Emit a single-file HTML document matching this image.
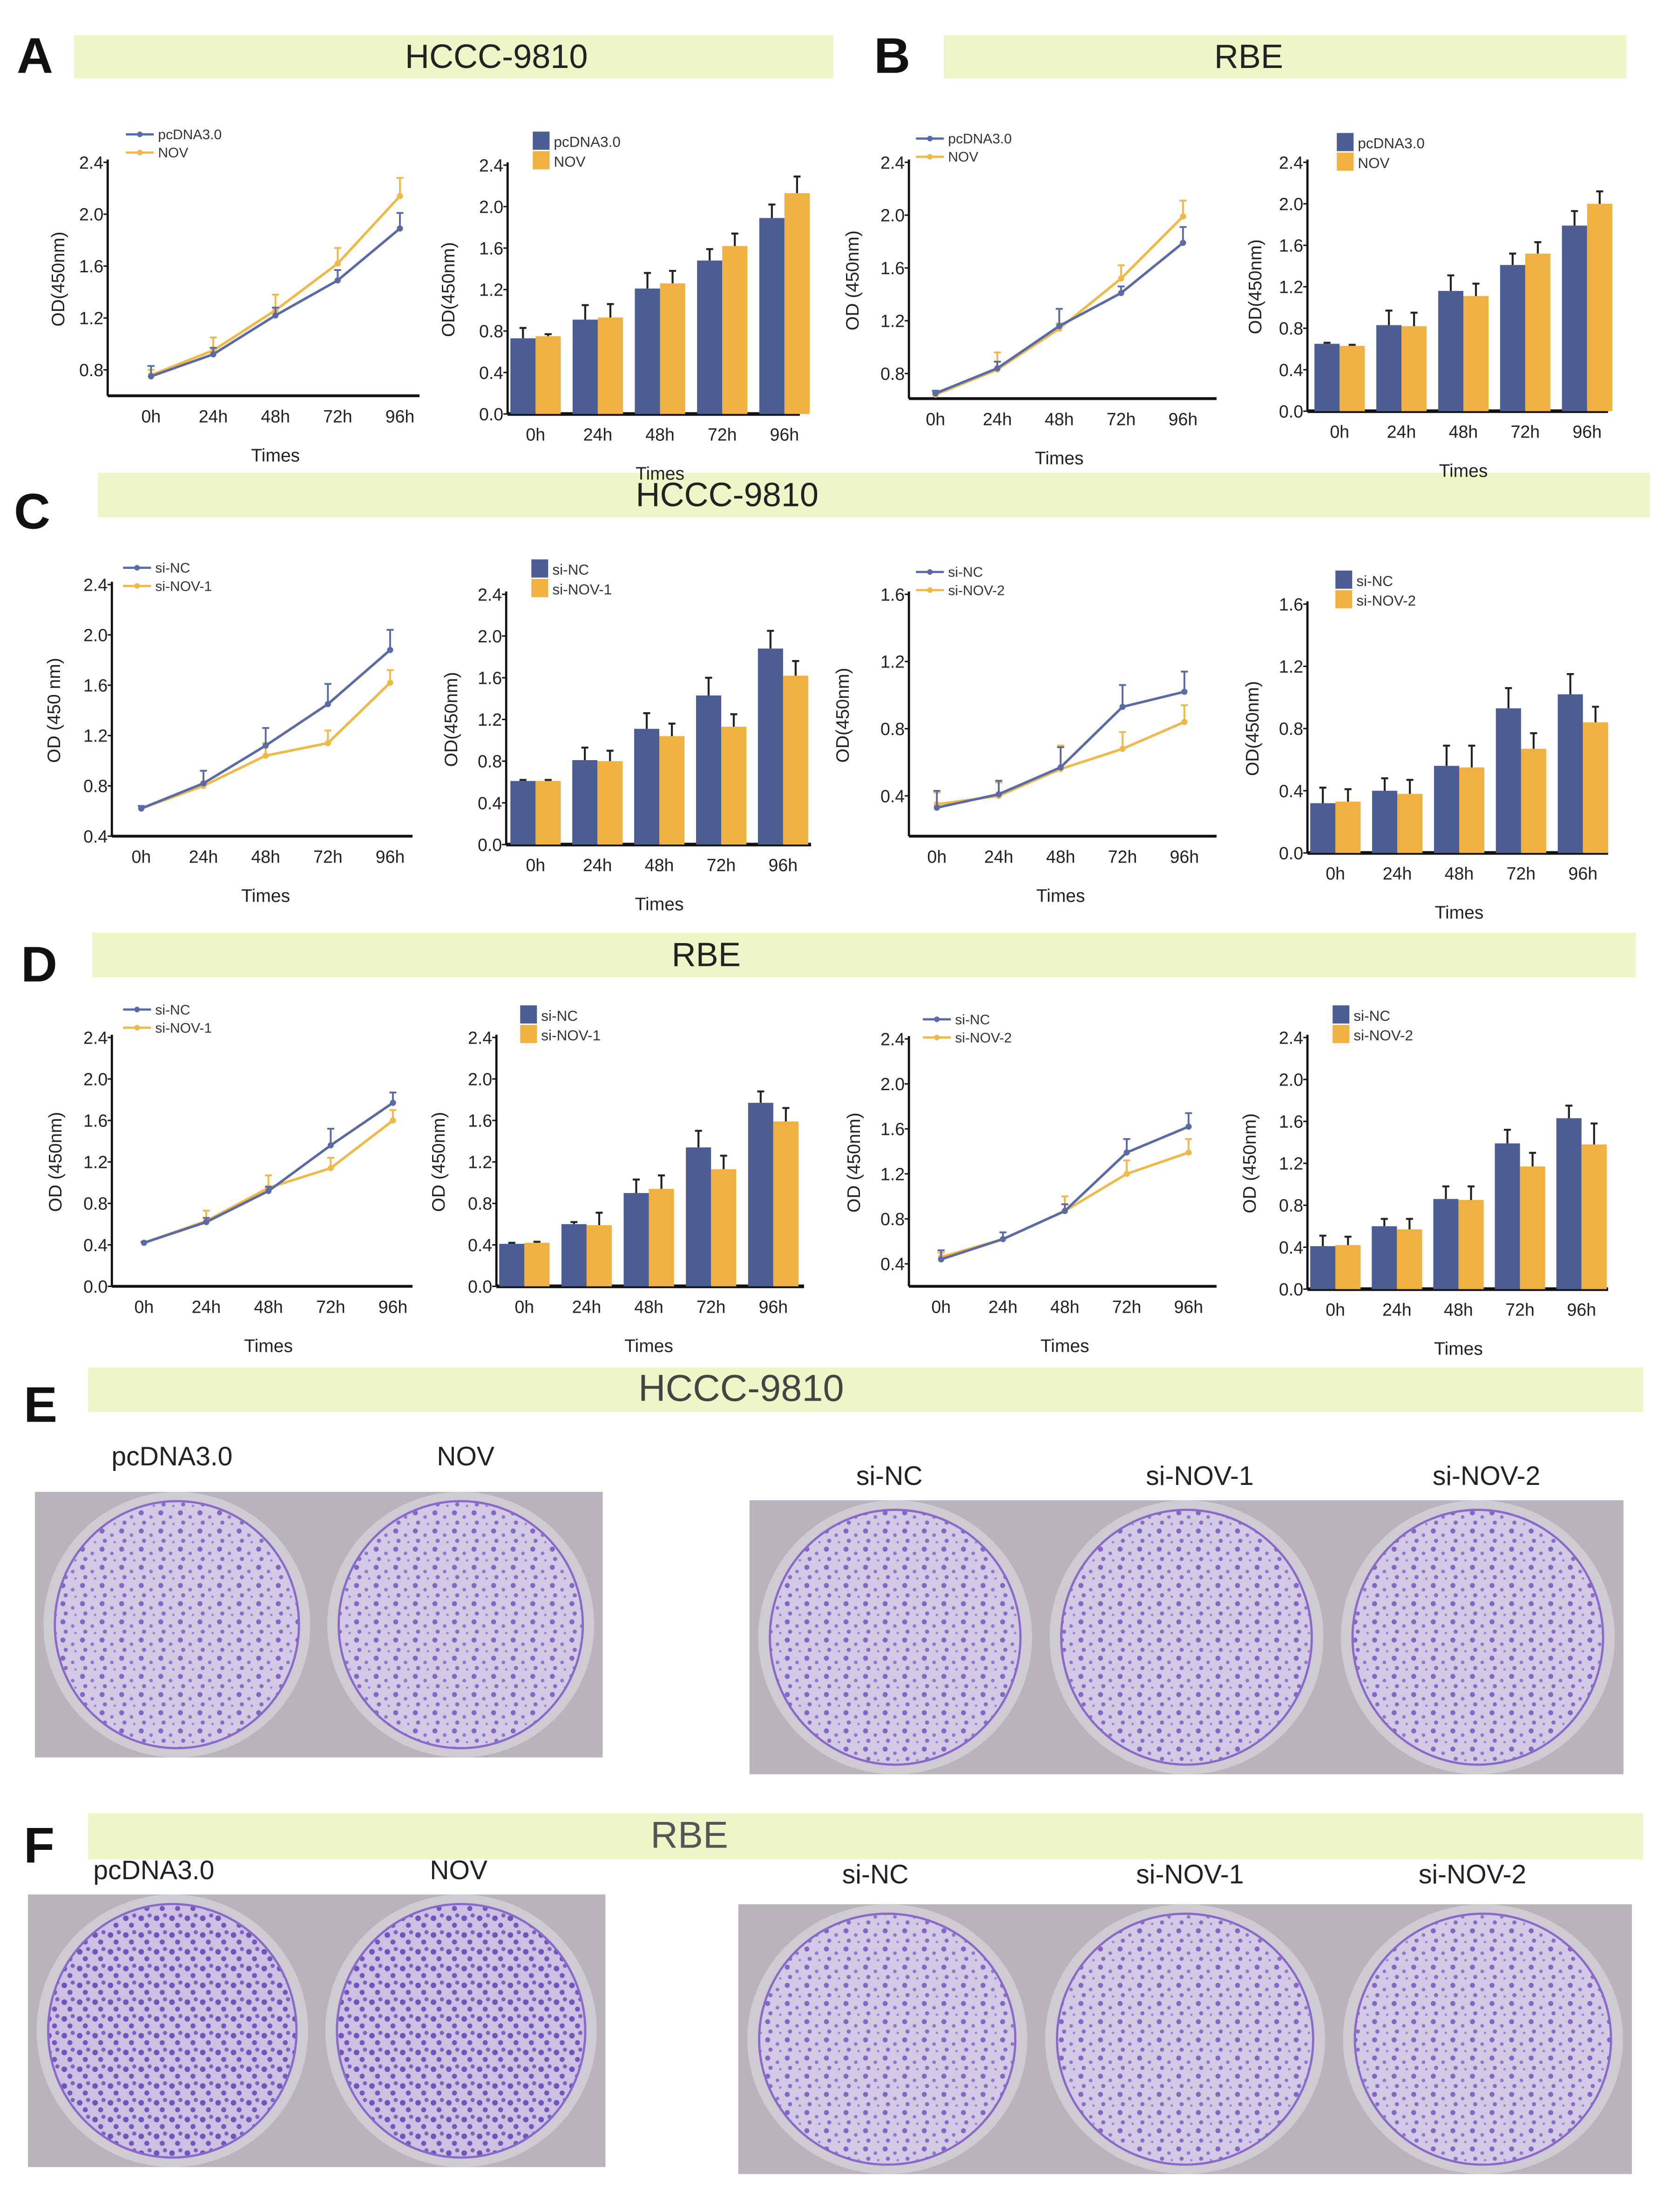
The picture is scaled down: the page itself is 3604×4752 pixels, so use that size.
<!DOCTYPE html>
<html><head><meta charset="utf-8"><style>
html,body{margin:0;padding:0;background:#fff;}
svg{display:block;}
text{font-family:"Liberation Sans",sans-serif;}
</style></head><body>
<svg id="fig" width="3604" height="4752" viewBox="0 0 1200 1582" xmlns="http://www.w3.org/2000/svg">
<defs>
<pattern id="col" width="14" height="13" patternUnits="userSpaceOnUse">
<rect width="14" height="13" fill="#d2c9e4"/>
<circle cx="3" cy="3" r="1.8" fill="#8466c6"/><circle cx="10" cy="6" r="1.3" fill="#9078cc"/>
<circle cx="5" cy="10" r="1.5" fill="#8a6cc8"/><circle cx="12" cy="11" r="0.9" fill="#9c84d2"/>
</pattern>
<pattern id="col2" width="11" height="12" patternUnits="userSpaceOnUse">
<rect width="11" height="12" fill="#cbc0e2"/>
<circle cx="2" cy="4" r="2" fill="#7252bc"/><circle cx="8" cy="2" r="1.5" fill="#7f60c4"/>
<circle cx="6" cy="9" r="1.8" fill="#7656be"/>
</pattern>
</defs>
<g id="root"></g>
</svg>
<script>
const times = ['0h','24h','48h','72h','96h'];
const A_line_pc = [0.75,0.92,1.22,1.49,1.89];
const A_line_pc_err = [0.08,0.05,0.06,0.08,0.12];
const A_line_nov = [0.76,0.95,1.26,1.62,2.14];
const A_line_nov_err = [0.04,0.10,0.12,0.12,0.14];
const A_bar_pc = [0.73,0.91,1.21,1.48,1.89];
const A_bar_pc_err = [0.10,0.14,0.15,0.11,0.13];
const A_bar_nov = [0.75,0.93,1.26,1.62,2.13];
const A_bar_nov_err = [0.02,0.13,0.12,0.12,0.16];
const B_line_pc = [0.65,0.84,1.16,1.41,1.79];
const B_line_pc_err = [0.02,0.05,0.13,0.05,0.12];
const B_line_nov = [0.64,0.83,1.14,1.52,1.99];
const B_line_nov_err = [0.02,0.13,0.04,0.10,0.12];
const B_bar_pc = [0.65,0.83,1.16,1.41,1.79];
const B_bar_pc_err = [0.01,0.14,0.15,0.11,0.14];
const B_bar_nov = [0.63,0.82,1.11,1.52,2.00];
const B_bar_nov_err = [0.01,0.13,0.12,0.11,0.12];
const C1_line_nc = [0.62,0.82,1.12,1.45,1.88];
const C1_line_nc_err = [0.02,0.10,0.14,0.16,0.16];
const C1_line_si = [0.62,0.80,1.04,1.14,1.62];
const C1_line_si_err = [0.02,0.12,0.10,0.10,0.10];
const C1_bar_nc = [0.61,0.81,1.11,1.43,1.88];
const C1_bar_nc_err = [0.01,0.12,0.15,0.17,0.17];
const C1_bar_si = [0.61,0.80,1.04,1.13,1.62];
const C1_bar_si_err = [0.01,0.10,0.12,0.12,0.14];
const C2_line_nc = [0.33,0.41,0.57,0.93,1.02];
const C2_line_nc_err = [0.10,0.08,0.12,0.13,0.12];
const C2_line_si = [0.35,0.40,0.56,0.68,0.84];
const C2_line_si_err = [0.07,0.08,0.14,0.10,0.10];
const C2_bar_nc = [0.32,0.40,0.56,0.93,1.02];
const C2_bar_nc_err = [0.10,0.08,0.13,0.13,0.13];
const C2_bar_si = [0.33,0.38,0.55,0.67,0.84];
const C2_bar_si_err = [0.08,0.09,0.14,0.10,0.10];
const D1_line_nc = [0.42,0.62,0.92,1.36,1.77];
const D1_line_nc_err = [0.01,0.04,0.04,0.16,0.10];
const D1_line_si = [0.42,0.63,0.95,1.14,1.60];
const D1_line_si_err = [0.01,0.10,0.12,0.10,0.10];
const D1_bar_nc = [0.41,0.60,0.90,1.34,1.77];
const D1_bar_nc_err = [0.01,0.02,0.13,0.16,0.11];
const D1_bar_si = [0.42,0.59,0.94,1.13,1.59];
const D1_bar_si_err = [0.01,0.12,0.13,0.13,0.13];
const D2_line_nc = [0.44,0.62,0.87,1.39,1.62];
const D2_line_nc_err = [0.08,0.06,0.06,0.12,0.12];
const D2_line_si = [0.46,0.62,0.87,1.20,1.39];
const D2_line_si_err = [0.04,0.06,0.13,0.12,0.12];
const D2_bar_nc = [0.41,0.60,0.86,1.39,1.63];
const D2_bar_nc_err = [0.10,0.07,0.12,0.13,0.12];
const D2_bar_si = [0.42,0.57,0.85,1.17,1.38];
const D2_bar_si_err = [0.08,0.10,0.13,0.13,0.20];
const ticks24 = [0,0.4,0.8,1.2,1.6,2.0,2.4];
const ticks24hi = [0.8,1.2,1.6,2.0,2.4];
const ticks24mid = [0.4,0.8,1.2,1.6,2.0,2.4];
const ticks16 = [0,0.4,0.8,1.2,1.6];
const ticks16hi = [0.4,0.8,1.2,1.6];

const NS='http://www.w3.org/2000/svg';
const root=document.getElementById('root');
function mk(tag,attrs,parent,txt){const e=document.createElementNS(NS,tag);for(const k in attrs)e.setAttribute(k,attrs[k]);if(txt!==undefined)e.textContent=txt;(parent||root).appendChild(e);return e;}
const BLUE='#4b5d92',ORANGE='#f1b042',LBLUE='#5a6aa6',LOR='#f0b848';

function header(letter,lx,ly,bx0,bx1,by,bh,title,tx,tcol,tsize){
  const g=mk('g',{});
  
  
  if(letter){const t=mk('text',{x:lx,y:ly,'font-size':36,'font-weight':'bold',fill:'#111'},g,letter);
    }
  const r=mk('rect',{x:bx0,y:by,width:bx1-bx0,height:bh,fill:'#eef6c8'},g);
  
  const tt=mk('text',{x:tx,y:by+bh/2+8,'font-size':tsize||24,'text-anchor':'middle',fill:tcol||'#222'},g,title);
  
}

function chart(c){
  const g=mk('g',{});
  
  
  const tmax=c.ticks[c.ticks.length-1];
  const y=v=>c.yAx-(v-c.vmin)/(tmax-c.vmin)*(c.yAx-c.yTop);
  const x=i=>c.xf+i*(c.xl-c.xf)/(times.length-1);
  const ya=mk('line',{x1:c.ax,y1:c.yTop-2,x2:c.ax,y2:c.yAx,stroke:'#111','stroke-width':1.6},g);
  
  const xa=mk('line',{x1:c.ax,y1:c.yAx,x2:c.xr,y2:c.yAx,stroke:'#111','stroke-width':c.bar?2.6:2},g);
  
  c.ticks.forEach(t=>{
    mk('line',{x1:c.ax-3,y1:y(t),x2:c.ax,y2:y(t),stroke:'#111','stroke-width':1},g);
    const tl=mk('text',{x:c.ax-3,y:y(t)+4.5,'font-size':12.5,'text-anchor':'end',fill:'#222'},g,t.toFixed(1));
    
  });
  times.forEach((t,i)=>{
    const tl=mk('text',{x:x(i),y:c.yAx+19,'font-size':12.5,'text-anchor':'middle',fill:'#222'},g,t);
    
  });
  const tt=mk('text',{x:(c.xf+c.xl)/2,y:c.yAx+47,'font-size':13,'text-anchor':'middle',fill:'#222'},g,'Times');
  
  const yl=mk('text',{x:c.ylx,y:(c.yTop+c.yAx)/2,'font-size':13,'text-anchor':'middle',fill:'#222',transform:`rotate(-90 ${c.ylx} ${(c.yTop+c.yAx)/2})`},g,c.ylabel);
  
  const cols=c.bar?[BLUE,ORANGE]:[LBLUE,LOR];
  const series=[[c.s1,c.e1],[c.s2,c.e2]];
  if(c.bar){
    const bw=18;
    series.forEach((s,k)=>{
      s[0].forEach((v,i)=>{
        const bx=x(i)-bw+k*bw;
        const b=mk('rect',{x:bx,y:y(v),width:bw,height:c.yAx-y(v),fill:cols[k]},g);
        
        
        const ex=bx+bw/2;
        const e=mk('path',{d:`M${ex},${y(v)} V${y(v+s[1][i])} M${ex-2.5},${y(v+s[1][i])} H${ex+2.5}`,stroke:'#222','stroke-width':1.4,fill:'none'},g);
        
      });
    });
  } else {
    [1,0].forEach(k=>{
      const s=series[k];
      const pts=s[0].map((v,i)=>x(i)+','+y(v)).join(' ');
      const pl=mk('polyline',{points:pts,fill:'none',stroke:cols[k],'stroke-width':1.8},g);
      
      s[0].forEach((v,i)=>{
        const e=mk('path',{d:`M${x(i)},${y(v)} V${y(v+s[1][i])} M${x(i)-2.5},${y(v+s[1][i])} H${x(i)+2.5}`,stroke:cols[k],'stroke-width':1.3,fill:'none'},g);
        
        const p=mk('circle',{cx:x(i),cy:y(v),r:2.2,fill:cols[k]},g);
        
      });
    });
  }
  c.leg.forEach((lab,k)=>{
    const ly=c.ly+k*(c.bar?14:13);
    const lg=mk('g',{},g);
    
    if(c.bar){mk('rect',{x:c.lx,y:ly-7,width:12,height:13,fill:cols[k]},lg);
      mk('text',{x:c.lx+15,y:ly+4,'font-size':10.5,fill:'#333'},lg,lab);}
    else{mk('line',{x1:c.lx,y1:ly,x2:c.lx+20,y2:ly,stroke:cols[k],'stroke-width':1.6},lg);
      mk('circle',{cx:c.lx+10,cy:ly,r:2,fill:cols[k]},lg);
      mk('text',{x:c.lx+23,y:ly+3.5,'font-size':10,fill:'#333'},lg,lab);}
  });
}

header('A',12,52,53,596,25,31,'HCCC-9810',355);
header('B',625,52,675,1163,25,31,'RBE',893);
header('C',10,378,70,1180,338,32,'HCCC-9810',520);
header('D',15,702,66,1170,667,32,'RBE',505);
header('E',17,1017,63,1175,978,32,'HCCC-9810',530,'#444',27);
header('F',17,1332,63,1175,1297,33,'RBE',493,'#555',27);

chart({name:'chart-a-line',ax:77,xr:300,yAx:283,yTop:116,vmin:0.6,ticks:ticks24hi,xf:108,xl:286,ylx:46,ylabel:'OD(450nm)',s1:A_line_pc,e1:A_line_pc_err,s2:A_line_nov,e2:A_line_nov_err,leg:['pcDNA3.0','NOV'],lx:90,ly:96});
chart({name:'chart-a-bar',bar:true,ax:363,xr:572,yAx:296,yTop:118,vmin:0,ticks:ticks24,xf:383,xl:561,ylx:325,ylabel:'OD(450nm)',s1:A_bar_pc,e1:A_bar_pc_err,s2:A_bar_nov,e2:A_bar_nov_err,leg:['pcDNA3.0','NOV'],lx:381,ly:101});
chart({name:'chart-b-line',ax:650,xr:870,yAx:285,yTop:116,vmin:0.61,ticks:ticks24hi,xf:669,xl:846,ylx:614,ylabel:'OD (450nm)',s1:B_line_pc,e1:B_line_pc_err,s2:B_line_nov,e2:B_line_nov_err,leg:['pcDNA3.0','NOV'],lx:655,ly:99});
chart({name:'chart-b-bar',bar:true,ax:935,xr:1150,yAx:294,yTop:116,vmin:0,ticks:ticks24,xf:958,xl:1135,ylx:902,ylabel:'OD(450nm)',s1:B_bar_pc,e1:B_bar_pc_err,s2:B_bar_nov,e2:B_bar_nov_err,leg:['pcDNA3.0','NOV'],lx:956,ly:102});
chart({name:'chart-c-line-1',ax:80,xr:295,yAx:598,yTop:418,vmin:0.4,ticks:ticks24mid,xf:101,xl:279,ylx:43,ylabel:'OD (450 nm)',s1:C1_line_nc,e1:C1_line_nc_err,s2:C1_line_si,e2:C1_line_si_err,leg:['si-NC','si-NOV-1'],lx:88,ly:406});
chart({name:'chart-c-bar-1',bar:true,ax:362,xr:580,yAx:604,yTop:425,vmin:0,ticks:ticks24,xf:383,xl:560,ylx:327,ylabel:'OD(450nm)',s1:C1_bar_nc,e1:C1_bar_nc_err,s2:C1_bar_si,e2:C1_bar_si_err,leg:['si-NC','si-NOV-1'],lx:380,ly:407});
chart({name:'chart-c-line-2',ax:650,xr:870,yAx:598,yTop:425,vmin:0.16,ticks:ticks16hi,xf:670,xl:847,ylx:607,ylabel:'OD(450nm)',s1:C2_line_nc,e1:C2_line_nc_err,s2:C2_line_si,e2:C2_line_si_err,leg:['si-NC','si-NOV-2'],lx:655,ly:409});
chart({name:'chart-c-bar-2',bar:true,ax:935,xr:1150,yAx:610,yTop:432,vmin:0,ticks:ticks16,xf:955,xl:1132,ylx:900,ylabel:'OD(450nm)',s1:C2_bar_nc,e1:C2_bar_nc_err,s2:C2_bar_si,e2:C2_bar_si_err,leg:['si-NC','si-NOV-2'],lx:955,ly:415});
chart({name:'chart-d-line-1',ax:80,xr:295,yAx:920,yTop:742,vmin:0,ticks:ticks24,xf:103,xl:281,ylx:44,ylabel:'OD (450nm)',s1:D1_line_nc,e1:D1_line_nc_err,s2:D1_line_si,e2:D1_line_si_err,leg:['si-NC','si-NOV-1'],lx:88,ly:722});
chart({name:'chart-d-bar-1',bar:true,ax:355,xr:575,yAx:920,yTop:742,vmin:0,ticks:ticks24,xf:375,xl:553,ylx:318,ylabel:'OD (450nm)',s1:D1_bar_nc,e1:D1_bar_nc_err,s2:D1_bar_si,e2:D1_bar_si_err,leg:['si-NC','si-NOV-1'],lx:372,ly:726});
chart({name:'chart-d-line-2',ax:650,xr:870,yAx:920,yTop:743,vmin:0.2,ticks:ticks24mid,xf:673,xl:850,ylx:615,ylabel:'OD (450nm)',s1:D2_line_nc,e1:D2_line_nc_err,s2:D2_line_si,e2:D2_line_si_err,leg:['si-NC','si-NOV-2'],lx:660,ly:729});
chart({name:'chart-d-bar-2',bar:true,ax:935,xr:1150,yAx:922,yTop:742,vmin:0,ticks:ticks24,xf:955,xl:1131,ylx:898,ylabel:'OD (450nm)',s1:D2_bar_nc,e1:D2_bar_nc_err,s2:D2_bar_si,e2:D2_bar_si_err,leg:['si-NC','si-NOV-2'],lx:953,ly:726});

function plates(name,x0,y0,x1,y1,labels,lxs,ly,pat){
  const g=mk('g',{});
  
  
  const bg=mk('rect',{x:x0,y:y0,width:x1-x0,height:y1-y0,fill:'#b9b4bb'},g);
  
  const n=labels.length,w=(x1-x0)/n;
  labels.forEach((l,i)=>{
    const cx=x0+w*(i+0.5),cy=(y0+y1)/2;
    mk('ellipse',{cx:cx,cy:cy,rx:w*0.47,ry:(y1-y0)*0.5,fill:'#cfcbd3'},g);
    const d=mk('ellipse',{cx:cx,cy:cy,rx:w*0.43,ry:(y1-y0)*0.465,fill:'url(#'+pat+')',stroke:'#8a6ac8','stroke-width':1.6},g);
    
    const t=mk('text',{x:lxs[i],y:ly,'font-size':19,'text-anchor':'middle',fill:'#222'},g,l);
    
  });
}
plates('plates-e-overexpression',25,1067,431,1257,['pcDNA3.0','NOV'],[123,333],1048,'col');
plates('plates-e-knockdown',536,1073,1161,1269,['si-NC','si-NOV-1','si-NOV-2'],[636,858,1063],1062,'col');
plates('plates-f-overexpression',20,1355,433,1550,['pcDNA3.0','NOV'],[110,328],1344,'col2');
plates('plates-f-knockdown',528,1362,1167,1555,['si-NC','si-NOV-1','si-NOV-2'],[626,851,1053],1347,'col');
</script>
</body></html>
